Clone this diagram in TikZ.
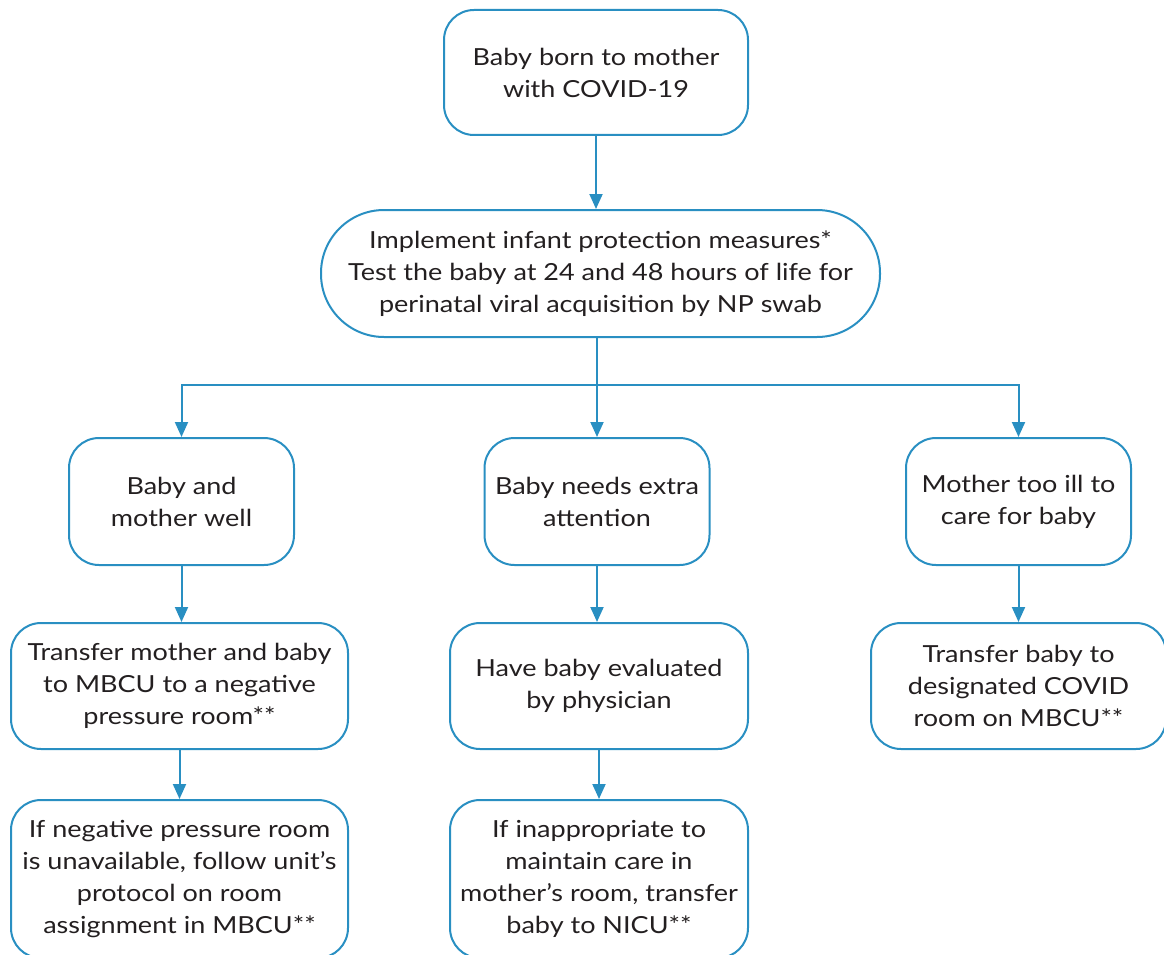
\documentclass[tikz,border=0pt]{standalone}
\usepackage{fontspec}
\setmainfont{Lato}[FakeStretch=1.15]
\usetikzlibrary{arrows.meta}
\definecolor{flowblue}{RGB}{41,143,194}
\definecolor{inkgray}{RGB}{35,31,32}
\tikzset{
  box/.style={draw=flowblue, line width=2pt, rounded corners=30pt, align=center,
    text=inkgray, font=\fontsize{23.5}{32}\selectfont, inner sep=0pt},
  flow/.style={-{Triangle[width=13pt,length=15pt]}, draw=flowblue, line width=2pt},
}
\begin{document}
\begin{tikzpicture}[x=1pt,y=-1pt]
            \useasboundingbox (0,0) rectangle (1164,955);
            \clip (0,0) rectangle (1164,955);

            \node[box, minimum width=304pt, minimum height=125pt] (BB) at (596,72.5) {Baby born to mother\\with COVID-19};
            \node[box, rounded corners=63pt, minimum width=559pt, minimum height=127pt] (IPM) at (600.5,273.5)
              {Implement infant protection measures*\\Test the baby at 24 and 48 hours of life for\\perinatal viral acquisition by NP swab};

            \node[box, minimum width=225pt, minimum height=127pt] (BMW) at (181.5,501.5) {Baby and\\mother well};
            \node[box, minimum width=225pt, minimum height=127pt] (BNA) at (597,501.5) {Baby needs extra\\attention};
            \node[box, minimum width=225pt, minimum height=127pt] (MTI) at (1018.5,501.5) {Mother too ill to\\care for baby};

            \node[box, minimum width=337pt, minimum height=126pt] (TMB) at (179.5,686) {Transfer mother and baby\\to MBCU to a negative\\pressure room**};
            \node[box, minimum width=298pt, minimum height=126pt] (HBE) at (599,686) {Have baby evaluated\\by physician};
            \node[box, minimum width=295pt, minimum height=126pt] (TBC) at (1018.5,686) {Transfer baby to\\designated COVID\\room on MBCU**};

            \node[box, minimum width=337pt, minimum height=158pt] (NPR) at (179.5,879) {If negative pressure room\\is unavailable, follow unit's\\protocol on room\\assignment in MBCU**};
            \node[box, minimum width=298pt, minimum height=158pt] (NICU) at (599,879) {If inappropriate to\\maintain care in\\mother's room, transfer\\baby to NICU**};

            \coordinate (split) at (597,385);

            \draw[flow] (BB) -- (BB |- IPM.north);
            \draw[flow] (IPM.south -| split) -- (split) -- (BNA.north -| split);
            \draw[flow] (split) -| (BMW.north);
            \draw[flow] (split) -| (MTI.north);

            \draw[flow] (BMW) -- (BMW |- TMB.north);
            \draw[flow] (BNA) -- (BNA |- HBE.north);
            \draw[flow] (MTI) -- (MTI |- TBC.north);
            \draw[flow] (TMB) -- (TMB |- NPR.north);
            \draw[flow] (HBE) -- (HBE |- NICU.north);
\end{tikzpicture}
\end{document}
